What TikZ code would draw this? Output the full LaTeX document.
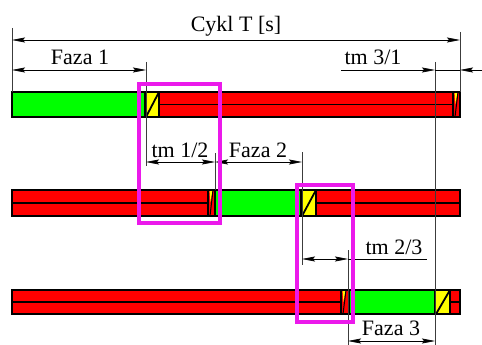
\documentclass[tikz,border=0pt]{standalone}
\usepackage{fontspec}
\setmainfont{Liberation Serif}
\usepackage{tikz}
\usetikzlibrary{arrows.meta}
\definecolor{PhaseGreen}{RGB}{0,255,0}
\definecolor{PhaseRed}{RGB}{255,0,0}
\definecolor{PhaseYellow}{RGB}{255,255,0}
\definecolor{FrameMagenta}{RGB}{235,25,235}
\definecolor{DimGray}{RGB}{60,60,60}

\begin{document}
\begin{tikzpicture}[
  x=1pt, y=-1pt,
  cell/.style={draw=black, line width=1.8pt},
  greencell/.style={cell, fill=PhaseGreen},
  redcell/.style={cell, fill=PhaseRed},
  yellowcell/.style={cell, fill=PhaseYellow},
  extline/.style={DimGray, line width=0.6pt},
  dim/.style={{Stealth[length=13pt,width=5pt,inset=2pt]}-{Stealth[length=13pt,width=5pt,inset=2pt]}, black, line width=0.6pt},
  halfdim/.style={-{Stealth[length=13pt,width=5pt,inset=2pt]}, black, line width=0.6pt},
  dimlabel/.style={anchor=base, inner sep=0pt, font=\fontsize{22}{25}\selectfont},
  magbox/.style={draw=FrameMagenta, line width=3.2pt}
]
\useasboundingbox (0,0) rectangle (482,345);

% faza 1
\filldraw[greencell] (12,92) rectangle (145,117);
\filldraw[yellowcell] (145,92) rectangle (159,117);
\draw[cell] (146,117) -- (159,92);
\filldraw[redcell] (159,92) rectangle (453,117);
\draw[cell] (159,104.5) -- (453,104.5);
\fill[PhaseRed] (453,92) rectangle (460,117);
\fill[PhaseYellow] (454.5,92) -- (457.5,92) -- (455.5,104) -- cycle;
\draw[cell] (453,92) rectangle (460,117);
\draw[line width=1pt] (455,117) -- (458,92);

% faza 2
\filldraw[redcell] (12,190) rectangle (208,216);
\draw[cell] (12,203) -- (208,203);
\fill[PhaseRed] (208,190) rectangle (215,216);
\fill[PhaseYellow] (209.5,190) -- (212.5,190) -- (210.5,202) -- cycle;
\draw[cell] (208,190) rectangle (215,216);
\draw[line width=1pt] (210,216) -- (213,190);
\filldraw[greencell] (215,190) rectangle (301,216);
\filldraw[yellowcell] (301,190) rectangle (316,216);
\draw[cell] (302,216) -- (316,190);
\filldraw[redcell] (316,190) rectangle (460,216);
\draw[cell] (316,203) -- (460,203);

% faza 3
\filldraw[redcell] (12,290) rectangle (341,314);
\draw[cell] (12,302) -- (341,302);
\fill[PhaseRed] (341,290) rectangle (349,314);
\fill[PhaseYellow] (342.5,290) -- (345.5,290) -- (343.5,302) -- cycle;
\draw[cell] (341,290) rectangle (349,314);
\draw[line width=1pt] (343,314) -- (346,290);
\filldraw[greencell] (349,290) rectangle (435,314);
\filldraw[yellowcell] (435,290) rectangle (450,314);
\draw[cell] (436,314) -- (450,290);
\filldraw[redcell] (450,290) rectangle (460,314);
\draw[cell] (450,302) -- (460,302);

% extension lines
\draw[extline] (12,28) -- (12,92);
\draw[extline] (460,32) -- (460,92);
\draw[extline] (146,62) -- (146,166);
\draw[extline] (435,62) -- (435,345);
\draw[extline] (215,153) -- (215,190);
\draw[extline] (302,152) -- (302,265);
\draw[extline] (348,250) -- (348,345);

% dimensions
\coordinate (cyklL) at (12,40);
\coordinate (cyklR) at (460,40);
\coordinate (faza1L) at (12,70);
\coordinate (faza1R) at (146,70);
\coordinate (tm31A) at (341,70);
\coordinate (tm31L) at (435,70);
\coordinate (tm31R) at (460,70);
\coordinate (tm31B) at (482,70);
\coordinate (tm12L) at (146,162);
\coordinate (tm12R) at (215,162);
\coordinate (faza2R) at (302,162);
\coordinate (tm23L) at (302,259);
\coordinate (tm23R) at (348,259);
\coordinate (tm23B) at (427,259);
\coordinate (faza3L) at (348,341);
\coordinate (faza3R) at (435,341);

\draw[dim] (cyklL) -- (cyklR);
\draw[dim] (faza1L) -- (faza1R);
\draw[halfdim] (tm31A) -- (tm31L);
\draw[extline, black] (tm31L) -- (tm31R);
\draw[halfdim] (tm31B) -- (tm31R);
\draw[dim] (tm12L) -- (tm12R);
\draw[dim] (tm12R) -- (faza2R);
\draw[dim] (tm23L) -- (tm23R);
\draw[extline, black] (tm23R) -- (tm23B);
\draw[dim] (faza3L) -- (faza3R);

\node[dimlabel] (cykl) at (236,32) {Cykl T [s]};
\node[dimlabel] (faza1) at (80,65) {Faza 1};
\node[dimlabel] (tm31) at (373,65) {tm 3/1};
\node[dimlabel] (tm12) at (180,157) {tm 1/2};
\node[dimlabel] (faza2) at (258,157) {Faza 2};
\node[dimlabel] (tm23) at (394,254) {tm 2/3};
\node[dimlabel] (faza3) at (391,335) {Faza 3};

% zoomed transitions
\draw[magbox] (139,84) rectangle (220,223);
\draw[magbox] (297,185) rectangle (353,322);
\end{tikzpicture}
\end{document}
